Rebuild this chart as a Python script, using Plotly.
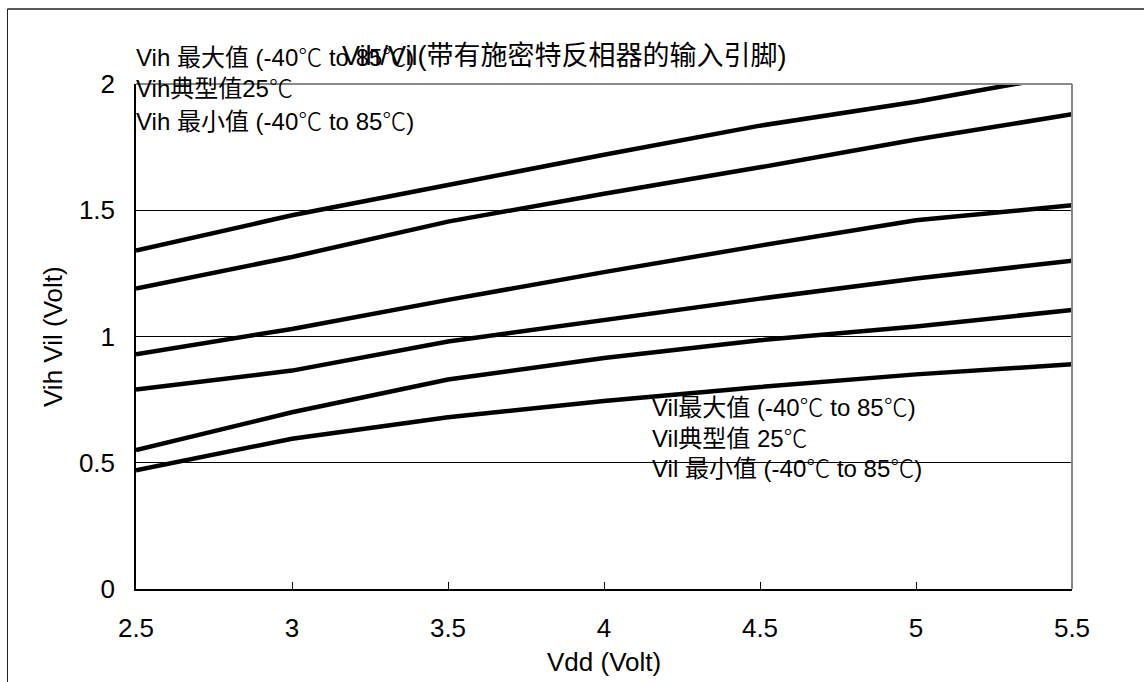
import plotly.graph_objects as go

vdd = [2.5, 3, 3.5, 4, 4.5, 5, 5.5]
vih_max = [1.34, 1.48, 1.60, 1.72, 1.835, 1.93, 2.04]
vih_typ = [1.19, 1.315, 1.455, 1.565, 1.67, 1.78, 1.88]
vih_min = [0.93, 1.03, 1.145, 1.255, 1.36, 1.46, 1.52]
vil_max = [0.79, 0.865, 0.98, 1.065, 1.15, 1.23, 1.30]
vil_typ = [0.55, 0.70, 0.83, 0.915, 0.985, 1.04, 1.105]
vil_min = [0.47, 0.595, 0.68, 0.745, 0.80, 0.85, 0.89]

x_ticks = [2.5, 3, 3.5, 4, 4.5, 5, 5.5]
x_ticktext = ["2.5", "3", "3.5", "4", "4.5", "5", "5.5"]
y_ticks = [0, 0.5, 1, 1.5, 2]
y_ticktext = ["0", "0.5", "1", "1.5", "2"]

title_text = "Vih/Vil(带有施密特反相器的输入引脚)"
vih_labels = ["Vih 最大值 (-40℃ to 85℃)", "Vih典型值25℃", "Vih 最小值 (-40℃ to 85℃)"]
vil_labels = ["Vil最大值 (-40℃ to 85℃)", "Vil典型值 25℃", "Vil 最小值 (-40℃ to 85℃)"]
x_title = "Vdd (Volt)"
y_title = "Vih Vil (Volt)"

FONT = "Liberation Sans, Arial, Noto Sans CJK SC, sans-serif"
CJK_SPAN = "<span style=\"font-family:'Noto Sans CJK SC';font-weight:300\">℃</span>"


def fmt(s):
    return s.replace("℃", CJK_SPAN)


fig = go.Figure()
for s in [vih_max, vih_typ, vih_min, vil_max, vil_typ, vil_min]:
    fig.add_trace(go.Scatter(x=vdd, y=s, mode="lines",
                             line=dict(color="black", width=4.5),
                             showlegend=False, hoverinfo="skip"))

W, H = 1144, 682
L, R, T, B = 136, 72, 84, 93
pw, ph = W - L - R, H - T - B


def px(xp):
    return (xp - L) / pw


def py(yp):
    return (H - B - yp) / ph


annotations = []
annotations.append(dict(text=fmt(title_text), xref="paper", yref="paper",
                        x=px(564), y=py(56), xanchor="center", yanchor="middle",
                        showarrow=False, font=dict(family=FONT, size=27, color="black")))
for lbl, yp in zip(vih_labels, [56, 86, 120]):
    annotations.append(dict(text=fmt(lbl), xref="paper", yref="paper",
                            x=px(134), y=py(yp), xanchor="left", yanchor="middle",
                            showarrow=False, font=dict(family=FONT, size=24, color="black")))
for lbl, yp in zip(vil_labels, [405, 436, 466]):
    annotations.append(dict(text=fmt(lbl), xref="paper", yref="paper",
                            x=px(650), y=py(yp), xanchor="left", yanchor="middle",
                            showarrow=False, font=dict(family=FONT, size=24, color="black")))
annotations.append(dict(text=x_title, xref="paper", yref="paper",
                        x=px(604), y=py(662), xanchor="center", yanchor="middle",
                        showarrow=False, font=dict(family=FONT, size=26, color="black")))
annotations.append(dict(text=y_title, xref="paper", yref="paper", textangle=-90,
                        x=px(53), y=py(337), xanchor="center", yanchor="middle",
                        showarrow=False, font=dict(family=FONT, size=26, color="black")))

shapes = [
    dict(type="line", xref="paper", yref="paper", x0=0, x1=1, y0=1, y1=1,
         line=dict(color="#888888", width=2)),
    dict(type="line", xref="paper", yref="paper", x0=1, x1=1, y0=0, y1=1,
         line=dict(color="#888888", width=2)),
    dict(type="line", xref="paper", yref="paper", x0=px(7.5), x1=px(7.5), y0=py(9), y1=py(690),
         line=dict(color="#222222", width=1)),
    dict(type="line", xref="paper", yref="paper", x0=px(7.5), x1=px(1150), y0=py(9), y1=py(9),
         line=dict(color="#222222", width=1.5)),
]

fig.update_layout(
    width=W, height=H,
    margin=dict(l=L, r=R, t=T, b=B),
    paper_bgcolor="white", plot_bgcolor="white",
    font=dict(family=FONT, size=26, color="black"),
    annotations=annotations,
    shapes=shapes,
    xaxis=dict(range=[2.5, 5.5], tickvals=x_ticks, ticktext=x_ticktext,
               showgrid=False, zeroline=False, showline=True, linecolor="black", linewidth=1.5,
               ticks="inside", ticklen=7, tickcolor="black",
               ticklabelstandoff=15, tickfont=dict(size=26)),
    yaxis=dict(range=[0, 2], tickvals=y_ticks, ticktext=y_ticktext,
               showgrid=True, gridcolor="black", gridwidth=1, zeroline=False,
               showline=True, linecolor="black", linewidth=1.5,
               ticks="inside", ticklen=7, tickcolor="black",
               ticklabelstandoff=14, tickfont=dict(size=26)),
)

fig.write_html("out.html")
